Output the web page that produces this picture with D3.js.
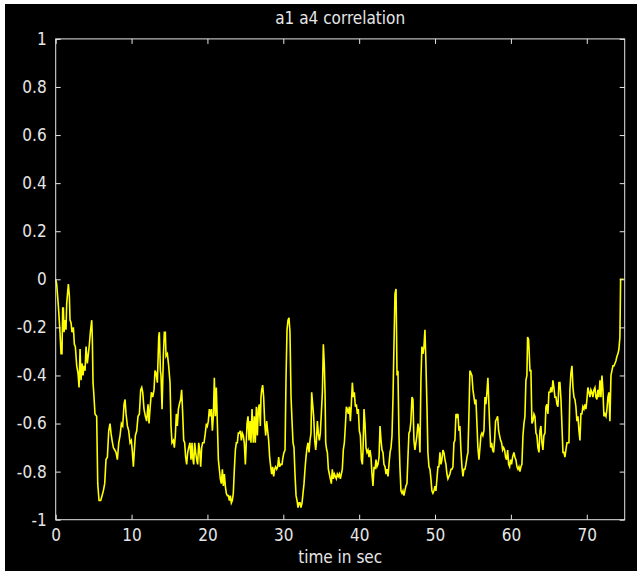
<!DOCTYPE html>
<html>
<head>
<meta charset="utf-8">
<script src="https://cdn.jsdelivr.net/npm/d3@7"></script>
<style>
  body { margin: 0; background: #fff; }
  text { font-family: "Liberation Sans Narrow", "DejaVu Sans Condensed", "Liberation Sans", sans-serif; }
</style>
</head>
<body>
<svg id="chart"></svg>
<script>
// time (s) and correlation values
const timeSec = [
  0.00,0.13,0.35,0.57,0.70,0.83,0.92,1.01,1.10,1.23,1.36,1.45,1.67,1.80,1.89,2.02,2.15,2.33,2.46,2.59,
  2.77,2.94,3.08,3.21,3.34,3.47,3.60,3.73,3.87,4.00,4.17,4.31,4.44,4.57,4.75,4.83,4.92,5.01,5.18,5.40,
  5.54,5.71,5.93,6.11,6.28,6.46,6.63,6.81,6.99,7.16,7.29,7.43,7.60,7.78,7.95,8.13,8.31,8.48,8.66,8.83,
  9.01,9.14,9.27,9.45,9.62,9.80,9.97,10.11,10.24,10.37,10.50,10.68,10.85,11.03,11.20,11.34,11.47,11.64,11.82,11.99,
  12.17,12.30,12.43,12.61,12.79,12.96,13.09,13.23,13.40,13.58,13.66,13.80,13.88,14.02,14.19,14.32,14.45,
  14.54,14.72,14.89,15.07,15.20,15.33,15.51,15.64,15.77,15.90,16.03,16.17,16.30,16.47,16.60,16.74,16.87,17.00,17.13,17.26,
  17.40,17.53,17.70,17.83,17.97,18.05,18.19,18.32,18.45,18.58,18.71,18.85,18.98,19.11,19.24,19.37,19.55,19.72,19.86,19.99,
  20.12,20.25,20.38,20.52,20.65,20.78,20.91,21.04,21.17,21.31,21.44,21.57,21.70,21.83,21.97,22.10,22.23,22.36,22.49,22.62,
  22.76,22.89,23.02,23.15,23.28,23.41,23.55,23.68,23.81,23.94,24.07,24.21,24.34,24.47,24.60,24.73,24.86,25.00,25.08,25.22,
  25.35,25.48,25.61,25.74,25.88,26.05,26.18,26.31,26.45,26.58,26.71,26.84,26.97,27.06,27.15,27.28,27.41,27.55,27.68,27.81,
  27.94,28.07,28.20,28.34,28.47,28.60,28.73,28.86,28.99,29.13,29.26,29.39,29.52,29.65,
  29.83,29.96,30.09,30.23,30.36,30.49,30.62,30.75,30.88,31.02,31.15,31.28,31.41,31.54,31.68,31.81,31.94,32.07,32.20,32.33,
  32.47,32.60,32.73,32.86,32.99,33.13,33.26,33.39,33.52,33.65,33.74,33.87,34.00,34.14,34.27,34.36,34.49,34.62,34.75,34.88,
  35.01,35.15,35.28,35.41,35.50,35.59,35.72,35.81,35.94,36.07,36.20,36.33,36.46,36.60,36.73,36.86,36.99,37.12,37.26,37.39,
  37.52,37.65,37.78,37.91,38.05,38.18,38.31,38.44,38.57,38.71,38.84,38.97,39.10,39.23,39.36,39.50,39.63,39.76,39.89,40.02,
  40.16,40.29,40.42,40.51,40.64,40.77,40.90,41.03,41.17,41.30,41.43,41.56,41.69,41.82,41.96,42.09,42.22,42.35,42.48,42.62,
  42.75,42.88,43.01,43.14,43.27,43.41,43.54,43.67,43.80,43.93,44.07,44.20,44.33,44.46,44.59,44.72,44.86,44.99,
  45.11,45.24,45.37,45.51,45.64,45.77,45.90,46.03,46.16,46.30,46.43,46.56,46.69,46.82,46.96,47.09,47.22,47.35,47.48,47.61,
  47.75,47.88,48.01,48.14,48.27,48.41,48.54,48.67,48.80,48.93,49.06,49.20,49.33,49.46,49.59,49.72,49.86,49.99,50.12,50.25,
  50.38,50.51,50.65,50.78,50.91,51.04,51.17,51.31,51.44,51.57,51.70,51.83,51.96,52.10,52.23,52.36,52.49,52.62,52.76,52.89,
  53.02,53.15,53.28,53.41,53.55,53.68,53.81,53.94,54.07,54.21,54.34,54.47,54.60,54.73,54.86,55.00,55.13,55.26,55.39,55.52,
  55.65,55.79,55.92,56.05,56.18,56.31,56.45,56.58,56.71,56.84,56.97,57.06,57.19,57.33,57.46,57.59,57.72,57.85,57.98,58.12,
  58.25,58.38,58.51,58.64,58.77,58.91,59.04,59.17,59.30,59.43,59.57,59.70,59.83,59.96,60.09,60.22,
  60.40,60.53,60.66,60.80,60.93,61.06,61.19,61.32,61.45,61.59,61.72,61.85,61.98,62.11,62.20,62.33,62.42,62.51,62.64,62.77,
  62.90,63.04,63.17,63.30,63.43,63.56,63.70,63.83,63.96,64.09,64.22,64.35,64.49,64.62,64.75,64.88,65.01,65.15,65.28,65.41,
  65.54,65.67,65.80,65.94,66.07,66.20,66.33,66.46,66.60,66.73,66.86,66.99,67.12,67.25,67.39,67.52,67.65,67.78,67.91,68.05,
  68.18,68.31,68.44,68.57,68.70,68.84,68.97,69.10,69.23,69.36,69.49,69.63,69.76,69.89,70.02,70.15,70.29,70.42,70.55,70.68,
  70.81,70.94,71.08,71.21,71.34,71.47,71.60,71.74,71.87,72.00,72.13,72.26,72.39,72.53,72.66,72.79,72.92,73.05,73.19,73.32,
  73.45,73.58,73.71,73.84,73.98,74.11,74.24,74.37,74.46,74.64,74.85
];
const corr = [
  0.00,-0.02,-0.11,-0.22,-0.31,-0.31,-0.12,-0.12,-0.22,-0.17,-0.21,-0.10,-0.02,-0.07,-0.17,-0.18,-0.22,-0.20,-0.27,-0.28,
  -0.36,-0.39,-0.45,-0.29,-0.42,-0.35,-0.40,-0.36,-0.38,-0.28,-0.35,-0.31,-0.27,-0.22,-0.17,-0.25,-0.43,-0.47,-0.56,-0.57,
  -0.85,-0.92,-0.92,-0.90,-0.88,-0.85,-0.75,-0.74,-0.63,-0.60,-0.64,-0.67,-0.70,-0.71,-0.72,-0.75,-0.68,-0.65,-0.60,-0.61,
  -0.52,-0.50,-0.56,-0.61,-0.63,-0.68,-0.67,-0.72,-0.78,-0.71,-0.65,-0.63,-0.57,-0.56,-0.46,-0.45,-0.47,-0.54,-0.57,-0.59,
  -0.52,-0.60,-0.54,-0.47,-0.49,-0.46,-0.38,-0.39,-0.43,-0.24,-0.22,-0.38,-0.40,-0.54,-0.32,-0.22,-0.22,
  -0.32,-0.31,-0.36,-0.43,-0.61,-0.68,-0.67,-0.70,-0.65,-0.56,-0.61,-0.54,-0.52,-0.50,-0.46,-0.56,-0.67,-0.68,-0.74,-0.77,
  -0.72,-0.70,-0.68,-0.75,-0.68,-0.74,-0.77,-0.68,-0.72,-0.75,-0.77,-0.68,-0.71,-0.78,-0.70,-0.68,-0.68,-0.64,-0.60,-0.61,
  -0.59,-0.54,-0.57,-0.54,-0.63,-0.57,-0.41,-0.57,-0.45,-0.60,-0.75,-0.79,-0.83,-0.85,-0.79,-0.86,-0.81,-0.86,-0.89,-0.90,
  -0.90,-0.92,-0.90,-0.93,-0.92,-0.89,-0.79,-0.71,-0.68,-0.68,-0.64,-0.64,-0.63,-0.67,-0.64,-0.65,-0.68,-0.77,-0.71,-0.60,
  -0.57,-0.67,-0.59,-0.68,-0.54,-0.68,-0.57,-0.68,-0.53,-0.65,-0.54,-0.52,-0.61,-0.49,-0.46,-0.44,-0.49,-0.60,-0.65,-0.59,
  -0.63,-0.67,-0.74,-0.78,-0.81,-0.78,-0.82,-0.79,-0.78,-0.79,-0.78,-0.74,-0.78,-0.77,
  -0.77,-0.74,-0.72,-0.71,-0.41,-0.21,-0.17,-0.16,-0.22,-0.49,-0.59,-0.68,-0.70,-0.81,-0.90,-0.92,-0.95,-0.93,-0.93,-0.95,
  -0.93,-0.89,-0.85,-0.79,-0.74,-0.70,-0.68,-0.72,-0.67,-0.64,-0.47,-0.52,-0.57,-0.67,-0.71,-0.68,-0.59,-0.64,-0.67,-0.64,
  -0.56,-0.47,-0.27,-0.36,-0.47,-0.68,-0.71,-0.72,-0.79,-0.81,-0.83,-0.85,-0.79,-0.83,-0.81,-0.82,-0.83,-0.81,-0.82,-0.81,
  -0.83,-0.81,-0.79,-0.71,-0.68,-0.61,-0.53,-0.54,-0.56,-0.53,-0.59,-0.52,-0.43,-0.49,-0.47,-0.53,-0.52,-0.56,-0.54,-0.63,
  -0.65,-0.75,-0.77,-0.71,-0.54,-0.60,-0.70,-0.72,-0.71,-0.74,-0.71,-0.74,-0.81,-0.86,-0.78,-0.79,-0.75,-0.78,-0.77,-0.74,
  -0.61,-0.67,-0.71,-0.72,-0.77,-0.78,-0.81,-0.79,-0.82,-0.77,-0.72,-0.70,-0.65,-0.49,-0.27,-0.06,-0.04,-0.40,
  -0.38,-0.64,-0.78,-0.88,-0.89,-0.88,-0.90,-0.88,-0.86,-0.85,-0.74,-0.64,-0.63,-0.59,-0.49,-0.50,-0.67,-0.71,-0.68,-0.65,
  -0.60,-0.63,-0.72,-0.42,-0.28,-0.31,-0.28,-0.21,-0.35,-0.52,-0.72,-0.78,-0.79,-0.83,-0.88,-0.89,-0.88,-0.86,-0.88,-0.83,
  -0.78,-0.78,-0.72,-0.77,-0.75,-0.71,-0.72,-0.75,-0.77,-0.81,-0.83,-0.82,-0.81,-0.79,-0.79,-0.78,-0.68,-0.67,-0.56,-0.57,
  -0.56,-0.63,-0.61,-0.71,-0.78,-0.82,-0.79,-0.79,-0.77,-0.74,-0.72,-0.56,-0.38,-0.39,-0.40,-0.46,-0.49,-0.52,-0.50,-0.60,
  -0.70,-0.75,-0.70,-0.65,-0.64,-0.65,-0.63,-0.49,-0.52,-0.47,-0.41,-0.49,-0.60,-0.70,-0.68,-0.71,-0.72,-0.67,-0.59,-0.58,
  -0.57,-0.63,-0.65,-0.67,-0.68,-0.71,-0.70,-0.71,-0.74,-0.75,-0.71,-0.77,-0.78,-0.75,-0.77,-0.74,
  -0.72,-0.74,-0.75,-0.78,-0.79,-0.78,-0.80,-0.78,-0.77,-0.65,-0.60,-0.57,-0.42,-0.40,-0.24,-0.25,-0.31,-0.38,-0.38,-0.60,
  -0.59,-0.56,-0.57,-0.64,-0.65,-0.70,-0.72,-0.63,-0.61,-0.68,-0.71,-0.65,-0.64,-0.53,-0.52,-0.56,-0.47,-0.47,-0.45,-0.47,
  -0.42,-0.45,-0.49,-0.49,-0.52,-0.53,-0.43,-0.43,-0.50,-0.61,-0.72,-0.72,-0.74,-0.71,-0.68,-0.68,-0.68,-0.46,-0.39,-0.36,
  -0.45,-0.49,-0.50,-0.53,-0.59,-0.57,-0.63,-0.67,-0.56,-0.56,-0.53,-0.54,-0.52,-0.54,-0.50,-0.45,-0.47,-0.49,-0.46,-0.47,
  -0.49,-0.46,-0.45,-0.49,-0.50,-0.46,-0.49,-0.42,-0.49,-0.40,-0.46,-0.57,-0.56,-0.57,-0.54,-0.49,-0.47,-0.59,-0.40,-0.38,
  -0.36,-0.36,-0.35,-0.34,-0.32,-0.31,-0.29,-0.24,0.00,0.00,0.00
];

const xTickValues = [0, 10, 20, 30, 40, 50, 60, 70];
const yTickValues = [-1, -0.8, -0.6, -0.4, -0.2, 0, 0.2, 0.4, 0.6, 0.8, 1];
const yTickLabels = ["-1", "-0.8", "-0.6", "-0.4", "-0.2", "0", "0.2", "0.4", "0.6", "0.8", "1"];
const titleText = "a1 a4 correlation";
const xLabelText = "time in sec";

const W = 642, H = 580;
const fg = "#e6e6e6";

const svg = d3.select("#chart")
    .attr("width", W)
    .attr("height", H);

// black figure area
svg.append("rect")
    .attr("x", 5).attr("y", 4)
    .attr("width", 632).attr("height", 567)
    .attr("fill", "#000");

const x = d3.scaleLinear().domain([0, 75]).range([55.7, 624.7]);
const y = d3.scaleLinear().domain([-1, 1]).range([519.7, 38.9]);

// trace
const points = timeSec.map((t, i) => [t, corr[i]]);
svg.append("path")
    .datum(points)
    .attr("fill", "none")
    .attr("stroke", "#ffff00")
    .attr("stroke-width", 1.6)
    .attr("stroke-linejoin", "miter")
    .attr("d", d3.line().x(d => x(d[0])).y(d => y(d[1])));

// axes with inward ticks on all four sides
function styleAxis(g) {
    g.select(".domain").remove();
    g.selectAll("line").attr("stroke", fg);
    g.selectAll("text").attr("fill", fg).style("font-size", "17px");
}

svg.append("g")
    .attr("transform", `translate(0,${y(-1)})`)
    .call(d3.axisBottom(x).tickValues(xTickValues).tickSize(-5).tickSizeOuter(0).tickPadding(9).tickFormat(d3.format("d")))
    .call(styleAxis);

svg.append("g")
    .attr("transform", `translate(0,${y(1)})`)
    .call(d3.axisTop(x).tickValues(xTickValues).tickSize(-5).tickSizeOuter(0).tickFormat(""))
    .call(styleAxis);

svg.append("g")
    .attr("transform", `translate(${x(0)},0)`)
    .call(d3.axisLeft(y).tickValues(yTickValues).tickSize(-5).tickSizeOuter(0).tickPadding(9)
        .tickFormat((d, i) => yTickLabels[i]))
    .call(styleAxis);

svg.append("g")
    .attr("transform", `translate(${x(75)},0)`)
    .call(d3.axisRight(y).tickValues(yTickValues).tickSize(-5).tickSizeOuter(0).tickFormat(""))
    .call(styleAxis);

// frame
svg.append("rect")
    .attr("x", x(0)).attr("y", y(1))
    .attr("width", x(75) - x(0)).attr("height", y(-1) - y(1))
    .attr("fill", "none")
    .attr("stroke", fg)
    .attr("stroke-width", 1);

// title
svg.append("text")
    .attr("x", (x(0) + x(75)) / 2)
    .attr("y", 24)
    .attr("text-anchor", "middle")
    .attr("fill", fg)
    .style("font-size", "17px")
    .text(titleText);

// x axis label
svg.append("text")
    .attr("x", (x(0) + x(75)) / 2)
    .attr("y", 563)
    .attr("text-anchor", "middle")
    .attr("fill", fg)
    .style("font-size", "17px")
    .text(xLabelText);
</script>
</body>
</html>
